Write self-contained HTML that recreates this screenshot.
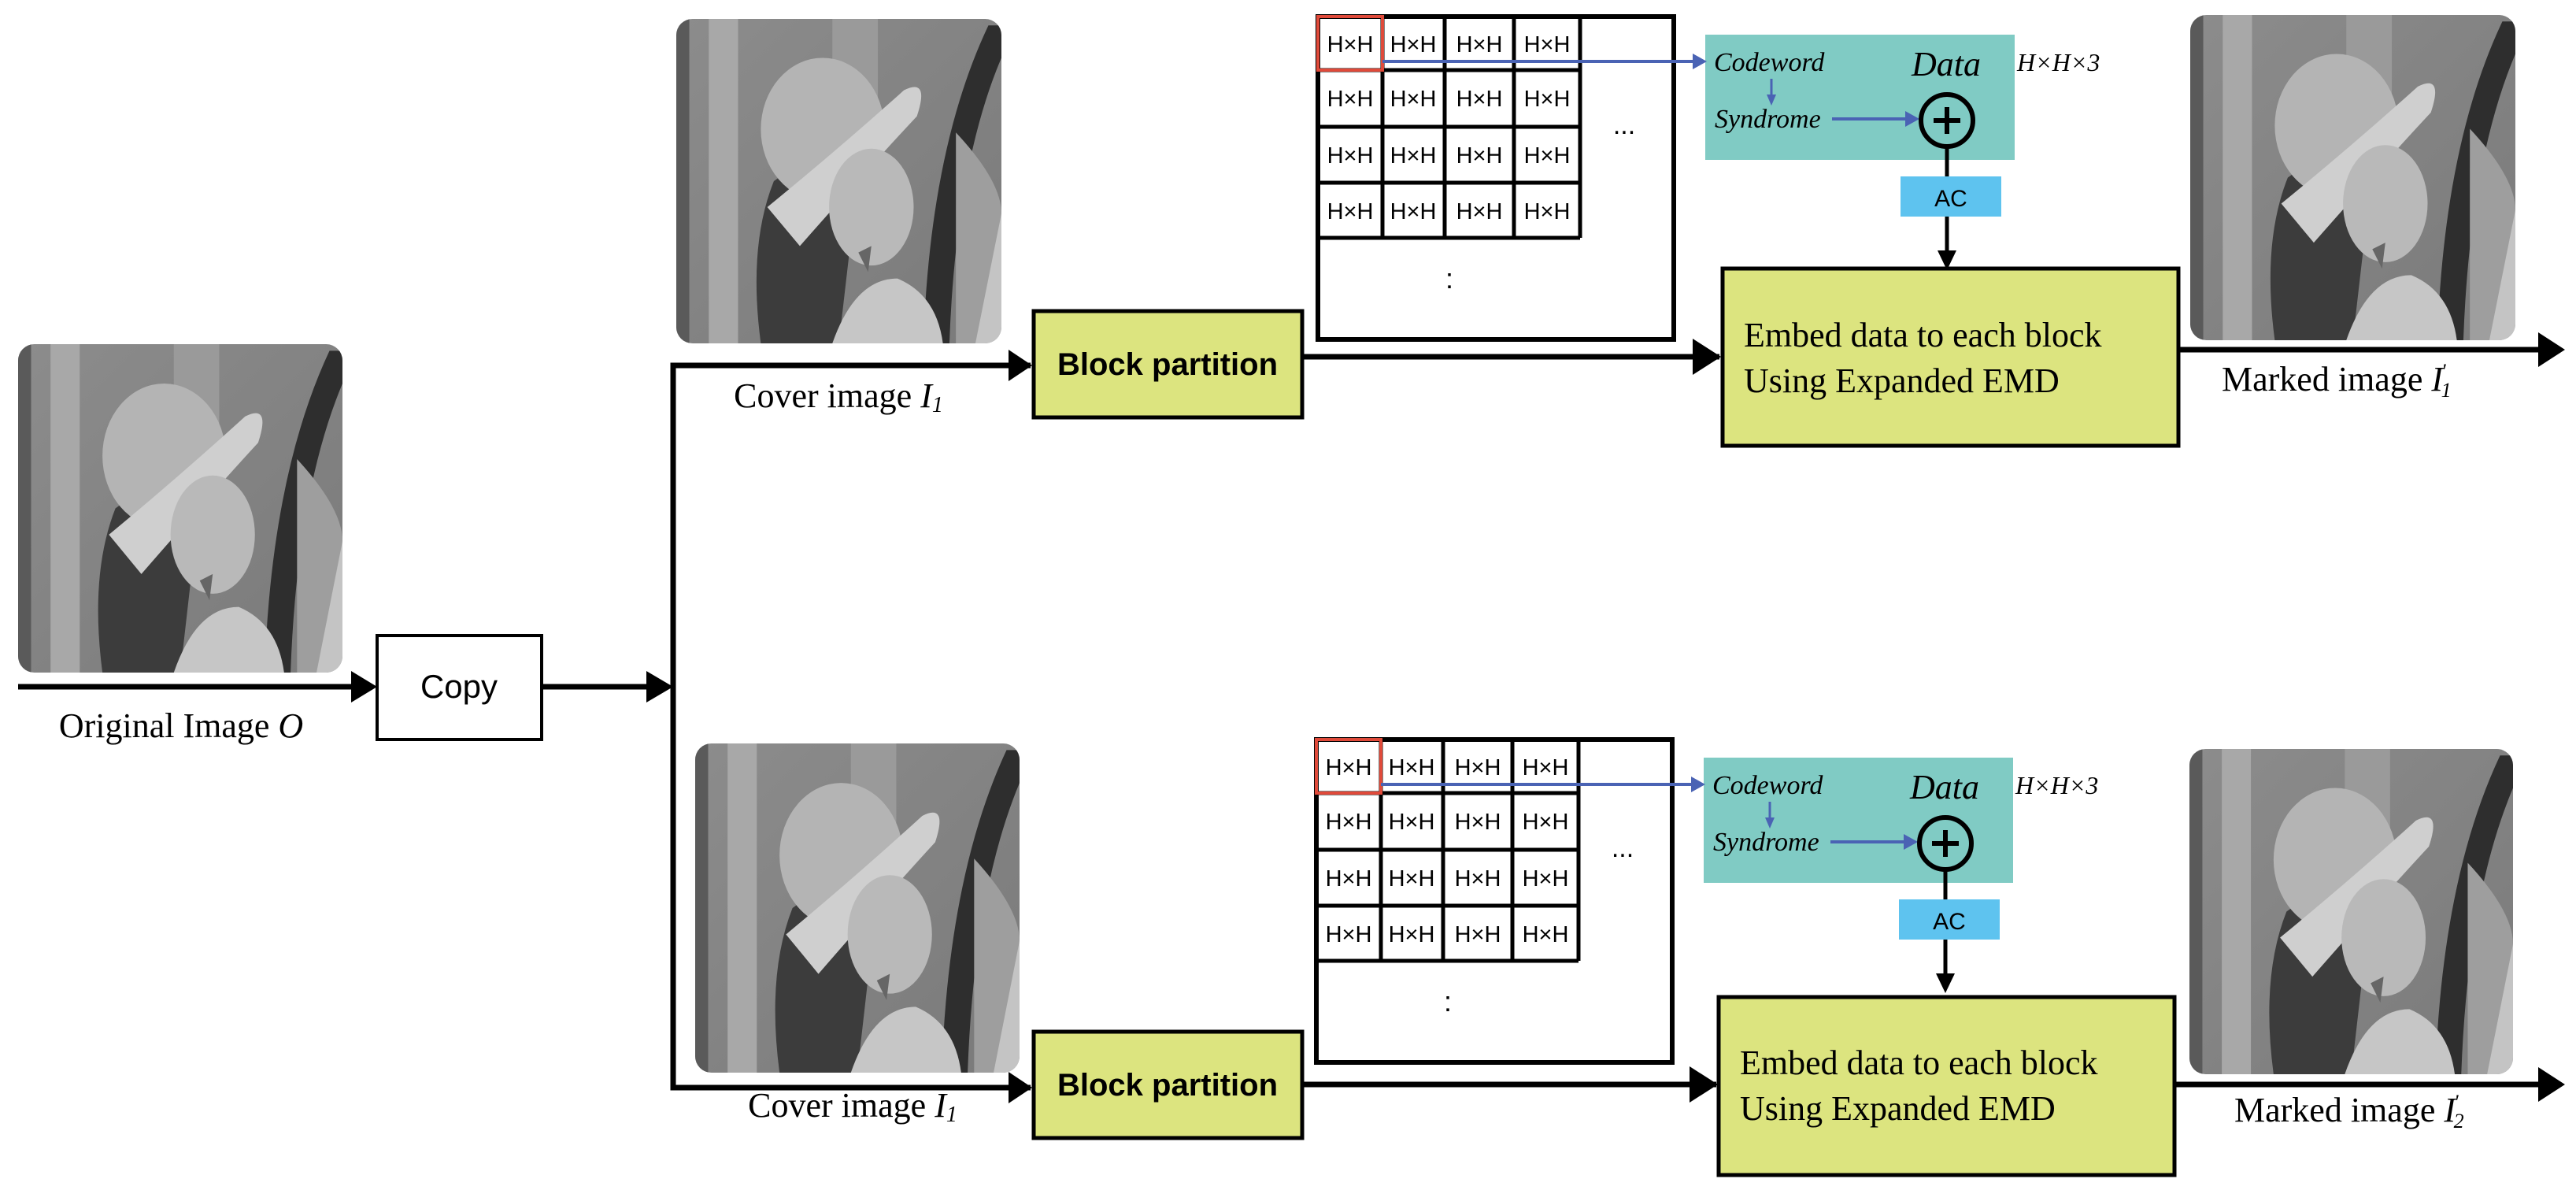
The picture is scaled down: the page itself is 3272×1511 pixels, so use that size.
<!DOCTYPE html>
<html><head><meta charset="utf-8"><style>
html,body{margin:0;padding:0;background:#fff;}
svg{display:block;}
.ser{font-family:"Liberation Serif",serif;}
.san{font-family:"Liberation Sans",sans-serif;}
</style></head><body>
<svg width="3272" height="1511" viewBox="0 0 3272 1511" xmlns="http://www.w3.org/2000/svg">
<defs>
<clipPath id="rc"><rect x="0" y="0" width="100" height="100" rx="5"/></clipPath>
<linearGradient id="bg" x1="0" y1="0" x2="1" y2="1"><stop offset="0" stop-color="#8c8c8c"/><stop offset="1" stop-color="#7a7a7a"/></linearGradient>
<symbol id="lena" viewBox="0 0 100 100" preserveAspectRatio="none">
<g clip-path="url(#rc)">
<rect width="100" height="100" fill="url(#bg)"/>
<rect x="0" y="0" width="4" height="100" fill="#5a5a5a"/>
<rect x="10" y="0" width="9" height="100" fill="#a8a8a8"/>
<rect x="48" y="0" width="14" height="30" fill="#9a9a9a"/>
<path d="M100,100 L100,60 Q92,65 88,100z" fill="#c4c4c4"/>
<path d="M96,2 Q78,40 76,100 L84,100 Q86,45 100,12 L100,2z" fill="#2e2e2e"/>
<path d="M86,35 Q100,50 100,60 L92,100 L86,100z" fill="#9e9e9e"/>
<path d="M26,100 Q22,70 30,50 L44,40 L56,48 L50,100z" fill="#3c3c3c"/>
<ellipse cx="45" cy="34" rx="19" ry="22" fill="#b4b4b4"/>
<path d="M28,58 Q50,40 70,22 Q78,18 74,30 Q60,45 38,70z" fill="#cfcfcf"/>
<ellipse cx="60" cy="58" rx="13" ry="18" fill="#b9b9b9"/>
<path d="M48,100 Q55,80 68,80 Q80,85 82,100z" fill="#c6c6c6"/>
<path d="M56,72 L60,70 L59,78z" fill="#666"/>
</g>
</symbol>
</defs>

<use href="#lena" x="23" y="437" width="412" height="417"/>
<use href="#lena" x="859" y="24" width="413" height="412"/>
<use href="#lena" x="883" y="944" width="412" height="418"/>
<use href="#lena" x="2782" y="19" width="413" height="413"/>
<use href="#lena" x="2781" y="951" width="411" height="413"/>

<line x1="23" y1="872" x2="450" y2="872" stroke="#000" stroke-width="7"/>
<path d="M446,852 L479,872 L446,892z"/>
<text x="230" y="936" class="ser" font-size="44" text-anchor="middle">Original Image <tspan font-style="italic">O</tspan></text>
<rect x="479" y="807" width="209" height="132" fill="#fff" stroke="#000" stroke-width="4"/>
<text x="583" y="886" class="san" font-size="42" text-anchor="middle">Copy</text>
<line x1="688" y1="872" x2="825" y2="872" stroke="#000" stroke-width="7"/>
<path d="M821,852 L855,872 L821,892z"/>
<polyline points="1309,464 855,464 855,1381 1309,1381" fill="none" stroke="#000" stroke-width="7"/>
<path d="M1281,444 L1311,464 L1281,484z"/>
<path d="M1281,1361 L1311,1381 L1281,1401z"/>
<text x="1065" y="517" class="ser" font-size="44" text-anchor="middle">Cover image <tspan font-style="italic">I</tspan><tspan font-style="italic" font-size="28" dy="6">1</tspan></text>
<text x="1083" y="1418" class="ser" font-size="44" text-anchor="middle">Cover image <tspan font-style="italic">I</tspan><tspan font-style="italic" font-size="28" dy="6">1</tspan></text>

<rect x="1313" y="395" width="341" height="135" fill="#dce47f" stroke="#000" stroke-width="5"/>
<text x="1483" y="476" class="san" font-size="40" font-weight="bold" text-anchor="middle">Block partition</text>
<line x1="1654" y1="453" x2="2184" y2="453" stroke="#000" stroke-width="7"/>
<path d="M2150,430 L2186,453 L2150,476z"/>
<g transform="translate(0,925)">
<rect x="1313" y="385" width="341" height="135" fill="#dce47f" stroke="#000" stroke-width="5"/>
<text x="1483" y="466" class="san" font-size="40" font-weight="bold" text-anchor="middle">Block partition</text>
<line x1="1654" y1="452" x2="2180" y2="452" stroke="#000" stroke-width="7"/>
<path d="M2146,429 L2182,452 L2146,475z"/>
</g>

<g id="grid">
<rect x="1674" y="21" width="452" height="410" fill="#fff" stroke="#000" stroke-width="6"/>
<g stroke="#000" stroke-width="5" fill="none">
<line x1="1674" y1="89" x2="2007" y2="89"/><line x1="1674" y1="161" x2="2007" y2="161"/>
<line x1="1674" y1="232" x2="2007" y2="232"/><line x1="1674" y1="302" x2="2007" y2="302"/>
<line x1="1756" y1="21" x2="1756" y2="302"/><line x1="1835" y1="21" x2="1835" y2="302"/>
<line x1="1923" y1="21" x2="1923" y2="302"/><line x1="2007" y1="21" x2="2007" y2="302"/>
</g>
<rect x="1674" y="21" width="82" height="68" fill="none" stroke="#e04a3a" stroke-width="4"/>
<g class="san" font-size="29" text-anchor="middle">
<text x="1715" y="66">H×H</text><text x="1795" y="66">H×H</text><text x="1879" y="66">H×H</text><text x="1965" y="66">H×H</text>
<text x="1715" y="135">H×H</text><text x="1795" y="135">H×H</text><text x="1879" y="135">H×H</text><text x="1965" y="135">H×H</text>
<text x="1715" y="207">H×H</text><text x="1795" y="207">H×H</text><text x="1879" y="207">H×H</text><text x="1965" y="207">H×H</text>
<text x="1715" y="278">H×H</text><text x="1795" y="278">H×H</text><text x="1879" y="278">H×H</text><text x="1965" y="278">H×H</text>
</g>
<text x="2063" y="170" class="san" font-size="34" text-anchor="middle">...</text>
<text x="1841" y="366" class="san" font-size="36" text-anchor="middle">:</text>
<rect x="2166" y="44" width="393" height="159" fill="#80cbc4"/>
<line x1="1756" y1="78" x2="2150" y2="78" stroke="#4a63b4" stroke-width="4"/>
<path d="M2150,68 L2168,78 L2150,88z" fill="#4a63b4"/>
<text x="2177" y="90" class="ser" font-size="34" font-style="italic">Codeword</text>
<text x="2428" y="96" class="ser" font-size="44" font-style="italic">Data</text>
<text x="2562" y="90" class="ser" font-size="32" font-style="italic">H×H×3</text>
<line x1="2250" y1="100" x2="2250" y2="122" stroke="#4a63b4" stroke-width="3"/>
<path d="M2244,120 L2250,134 L2256,120z" fill="#4a63b4"/>
<text x="2178" y="162" class="ser" font-size="34" font-style="italic">Syndrome</text>
<line x1="2327" y1="151" x2="2422" y2="151" stroke="#4a63b4" stroke-width="4"/>
<path d="M2420,141 L2438,151 L2420,161z" fill="#4a63b4"/>
<circle cx="2473" cy="153" r="33" fill="none" stroke="#000" stroke-width="6"/>
<line x1="2473" y1="136" x2="2473" y2="170" stroke="#000" stroke-width="6"/>
<line x1="2456" y1="153" x2="2490" y2="153" stroke="#000" stroke-width="6"/>
<line x1="2473" y1="186" x2="2473" y2="224" stroke="#000" stroke-width="5"/>
<rect x="2414" y="224" width="128" height="51" fill="#5ec3ef"/>
<text x="2478" y="262" class="san" font-size="30" text-anchor="middle">AC</text>
<line x1="2473" y1="275" x2="2473" y2="320" stroke="#000" stroke-width="5"/>
<path d="M2461,318 L2473,343 L2485,318z"/>
</g>
<use href="#grid" x="-2" y="918"/>

<rect x="2188" y="341" width="579" height="225" fill="#dce47f" stroke="#000" stroke-width="5"/>
<text x="2215" y="440" class="ser" font-size="44">Embed data to each block</text>
<text x="2215" y="498" class="ser" font-size="44">Using Expanded EMD</text>
<rect x="2183" y="1266" width="579" height="226" fill="#dce47f" stroke="#000" stroke-width="5"/>
<text x="2210" y="1364" class="ser" font-size="44">Embed data to each block</text>
<text x="2210" y="1422" class="ser" font-size="44">Using Expanded EMD</text>

<line x1="2767" y1="444" x2="3230" y2="444" stroke="#000" stroke-width="7"/>
<path d="M3224,422 L3258,444 L3224,466z"/>
<line x1="2762" y1="1377" x2="3230" y2="1377" stroke="#000" stroke-width="7"/>
<path d="M3224,1355 L3258,1377 L3224,1399z"/>
<text x="2822" y="496" class="ser" font-size="44">Marked image <tspan font-style="italic">I</tspan><tspan font-style="italic" font-size="26" dx="-2" dy="-16">'</tspan><tspan font-style="italic" font-size="26" dx="-6" dy="24">1</tspan></text>
<text x="2838" y="1424" class="ser" font-size="44">Marked image <tspan font-style="italic">I</tspan><tspan font-style="italic" font-size="26" dx="-2" dy="-16">'</tspan><tspan font-style="italic" font-size="26" dx="-6" dy="24">2</tspan></text>
</svg>
</body></html>
